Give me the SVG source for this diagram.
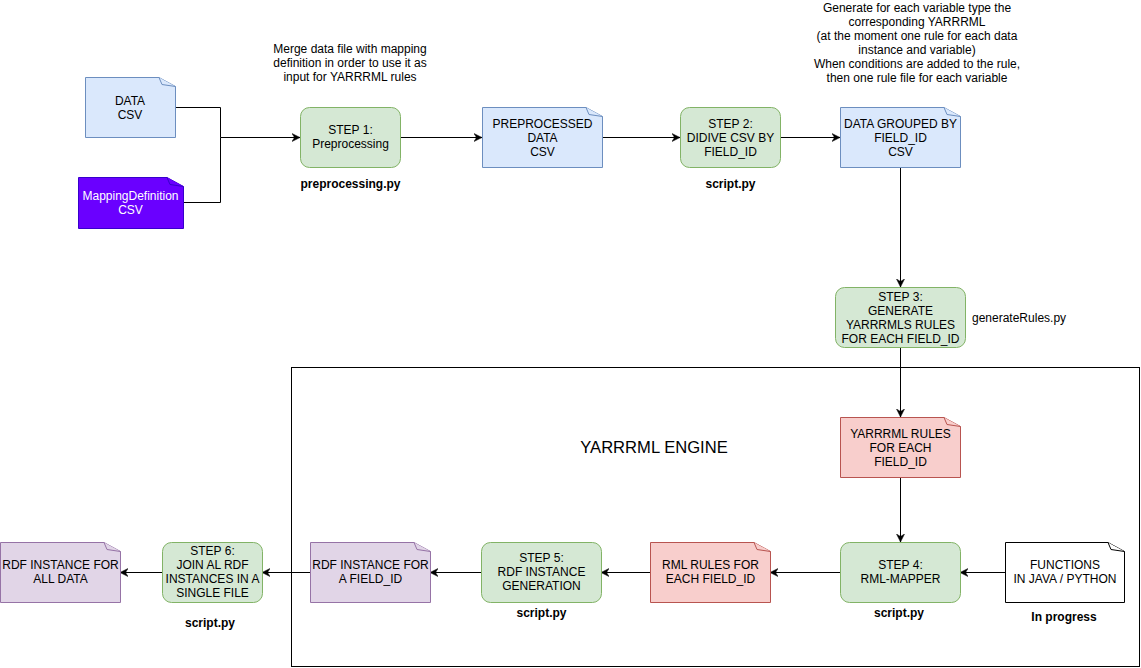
<svg xmlns="http://www.w3.org/2000/svg" width="1141" height="668" viewBox="0 0 1141 668">
<style>
text{font-family:"Liberation Sans",Helvetica,Arial,sans-serif;font-size:12px;fill:#000;text-anchor:middle}
.b{font-weight:bold}
.l{text-anchor:start}
.w{fill:#fff}
.big{font-size:16.6px}
.blue{fill:#dae8fc;stroke:#6c8ebf}
.green{fill:#d5e8d4;stroke:#82b366}
.red{fill:#f8cecc;stroke:#b85450}
.purple{fill:#e1d5e7;stroke:#9673a6}
.violet{fill:#6a00ff;stroke:#3700cc}
.white{fill:#fff;stroke:#000}
.edge{fill:none;stroke:#000;stroke-width:1}
</style>
<defs>
<marker id="arr" markerUnits="userSpaceOnUse" markerWidth="10" markerHeight="10" refX="8" refY="5" orient="auto">
<path d="M0,1 L8,5 L0,9 L2.5,5 Z" fill="#000" stroke="#000" stroke-width="0.5"/>
</marker>
</defs>
<rect width="1141" height="668" fill="#fff"/>

<g id="engine-frame">
<rect x="291.5" y="367.5" width="848" height="299" fill="none" stroke="#000"/>
<text class="big" x="654" y="453">YARRRML ENGINE</text>
</g>

<g id="connectors">
<path class="edge" d="M175,107.5 H220.5 V137.5"/>
<path class="edge" d="M183,202.5 H220.5 V137.5 H300" marker-end="url(#arr)"/>
<path class="edge" d="M400,137.5 H482" marker-end="url(#arr)"/>
<path class="edge" d="M602,137.5 H680" marker-end="url(#arr)"/>
<path class="edge" d="M780,137.5 H840" marker-end="url(#arr)"/>
<path class="edge" d="M900.5,167 V287" marker-end="url(#arr)"/>
<path class="edge" d="M900.5,347 V417" marker-end="url(#arr)"/>
<path class="edge" d="M900.5,477 V542" marker-end="url(#arr)"/>
<path class="edge" d="M1005,572.5 H960" marker-end="url(#arr)"/>
<path class="edge" d="M840,572.5 H770" marker-end="url(#arr)"/>
<path class="edge" d="M650,572.5 H601" marker-end="url(#arr)"/>
<path class="edge" d="M481,572.5 H430" marker-end="url(#arr)"/>
<path class="edge" d="M310,572.5 H262" marker-end="url(#arr)"/>
<path class="edge" d="M162,572.5 H120" marker-end="url(#arr)"/>
</g>

<g id="data-csv">
<path class="blue" d="M85.5,77.5 H159 L175.5,86.5 V137.5 H85.5 Z"/>
<path class="blue" d="M159,77.5 L162,84.5 L175.5,86.5"/>
<text x="130" y="105">DATA</text>
<text x="130" y="119">CSV</text>
</g>

<g id="mapping-csv">
<path class="violet" d="M78.5,177.5 H167 L183.5,186.5 V228.5 H78.5 Z"/>
<path class="violet" d="M167,177.5 L170,184.5 L183.5,186.5"/>
<text class="w" x="130.5" y="200">MappingDefinition</text>
<text class="w" x="130.5" y="214">CSV</text>
</g>

<g id="merge-note">
<text x="350" y="53">Merge data file with mapping</text>
<text x="350" y="67">definition in order to use it as</text>
<text x="350" y="81">input for YARRRML rules</text>
</g>

<g id="step1">
<rect class="green" x="300.5" y="107.5" width="100" height="60" rx="9"/>
<text x="350.5" y="134">STEP 1:</text>
<text x="350.5" y="148">Preprocessing</text>
<text class="b" x="350.5" y="188">preprocessing.py</text>
</g>

<g id="preprocessed-csv">
<path class="blue" d="M482.5,107.5 H586 L602.5,116.5 V167.5 H482.5 Z"/>
<path class="blue" d="M586,107.5 L589,114.5 L602.5,116.5"/>
<text x="542.5" y="128">PREPROCESSED</text>
<text x="542.5" y="142">DATA</text>
<text x="542.5" y="156">CSV</text>
</g>

<g id="step2">
<rect class="green" x="680.5" y="107.5" width="100" height="60" rx="9"/>
<text x="730.5" y="128">STEP 2:</text>
<text x="730.5" y="142">DIDIVE CSV BY</text>
<text x="730.5" y="156">FIELD_ID</text>
<text class="b" x="730.5" y="188">script.py</text>
</g>

<g id="generate-note">
<text x="917" y="12">Generate for each variable type the</text>
<text x="917" y="26">corresponding YARRRML</text>
<text x="917" y="40">(at the moment one rule for each data</text>
<text x="917" y="54">instance and variable)</text>
<text x="917" y="68">When conditions are added to the rule,</text>
<text x="917" y="82">then one rule file for each variable</text>
</g>

<g id="grouped-csv">
<path class="blue" d="M840.5,107.5 H944 L960.5,116.5 V167.5 H840.5 Z"/>
<path class="blue" d="M944,107.5 L947,114.5 L960.5,116.5"/>
<text x="900.5" y="128">DATA GROUPED BY</text>
<text x="900.5" y="142">FIELD_ID</text>
<text x="900.5" y="156">CSV</text>
</g>

<g id="step3">
<rect class="green" x="835.5" y="287.5" width="130" height="60" rx="9"/>
<text x="900.5" y="300.5">STEP 3:</text>
<text x="900.5" y="314.5">GENERATE</text>
<text x="900.5" y="328.5">YARRRMLS RULES</text>
<text x="900.5" y="342.5">FOR EACH FIELD_ID</text>
<text class="l" x="972" y="322">generateRules.py</text>
</g>

<g id="yarrrml-rules">
<path class="red" d="M840.5,417.5 H944 L960.5,426.5 V477.5 H840.5 Z"/>
<path class="red" d="M944,417.5 L947,424.5 L960.5,426.5"/>
<text x="900.5" y="438">YARRRML RULES</text>
<text x="900.5" y="452">FOR EACH</text>
<text x="900.5" y="466">FIELD_ID</text>
</g>

<g id="functions">
<path class="white" d="M1005.5,542.5 H1108 L1124.5,551.5 V602.5 H1005.5 Z"/>
<path class="white" d="M1108,542.5 L1111,549.5 L1124.5,551.5"/>
<text x="1065" y="569">FUNCTIONS</text>
<text x="1065" y="583">IN JAVA / PYTHON</text>
<text class="b" x="1064" y="621">In progress</text>
</g>

<g id="step4">
<rect class="green" x="840.5" y="542.5" width="120" height="60" rx="9"/>
<text x="900.5" y="569">STEP 4:</text>
<text x="900.5" y="583">RML-MAPPER</text>
<text class="b" x="899" y="617">script.py</text>
</g>

<g id="rml-rules">
<path class="red" d="M650.5,542.5 H754 L770.5,551.5 V602.5 H650.5 Z"/>
<path class="red" d="M754,542.5 L757,549.5 L770.5,551.5"/>
<text x="710.5" y="569">RML RULES FOR</text>
<text x="710.5" y="583">EACH FIELD_ID</text>
</g>

<g id="step5">
<rect class="green" x="481.5" y="542.5" width="120" height="60" rx="9"/>
<text x="541.5" y="562">STEP 5:</text>
<text x="541.5" y="576">RDF INSTANCE</text>
<text x="541.5" y="590">GENERATION</text>
<text class="b" x="541.5" y="617">script.py</text>
</g>

<g id="rdf-field">
<path class="purple" d="M310.5,542.5 H414 L430.5,551.5 V602.5 H310.5 Z"/>
<path class="purple" d="M414,542.5 L417,549.5 L430.5,551.5"/>
<text x="370.5" y="569">RDF INSTANCE FOR</text>
<text x="370.5" y="583">A FIELD_ID</text>
</g>

<g id="step6">
<rect class="green" x="162.5" y="542.5" width="100" height="60" rx="9"/>
<text x="212.5" y="555">STEP 6:</text>
<text x="212.5" y="569">JOIN AL RDF</text>
<text x="212.5" y="583">INSTANCES IN A</text>
<text x="212.5" y="597">SINGLE FILE</text>
<text class="b" x="210" y="627">script.py</text>
</g>

<g id="rdf-all">
<path class="purple" d="M0.5,542.5 H104 L120.5,551.5 V602.5 H0.5 Z"/>
<path class="purple" d="M104,542.5 L107,549.5 L120.5,551.5"/>
<text x="60.5" y="569">RDF INSTANCE FOR</text>
<text x="60.5" y="583">ALL DATA</text>
</g>
</svg>
